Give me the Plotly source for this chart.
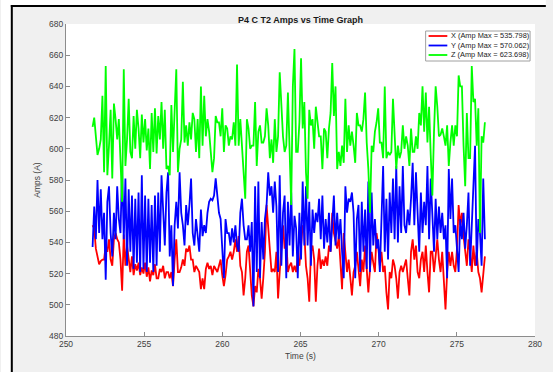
import numpy as np
import plotly.graph_objects as go

# ---- data ----
T0 = 251.70          # first sample time (s)
DT = 0.105           # sample spacing (s)

amps_x = [
    551, 549, 536, 530, 526, 528, 529, 529, 538, 534, 542, 529, 525, 542, 546, 542, 540, 529, 509, 545,
    525, 538, 529, 521, 531, 519, 526, 522, 527, 519, 524, 520, 527, 518, 524, 515, 522, 519, 526, 517,
    517, 523, 521, 525, 517, 521, 521, 517, 521, 512, 529, 542, 521, 521, 524, 529, 525, 536, 534, 538,
    529, 529, 521, 525, 523, 521, 510, 517, 510, 523, 527, 523, 525, 519, 525, 523, 521, 525, 529, 519,
    512, 519, 529, 531, 534, 529, 534, 542, 534, 544, 525, 521, 506, 517, 534, 538, 521, 506, 499, 512,
    508, 523, 517, 504, 517, 534, 564, 551, 538, 521, 523, 521, 534, 504, 521, 534, 551, 536, 542, 521,
    525, 527, 521, 525, 521, 531, 525, 538, 551, 546, 525, 517, 502, 534, 538, 529, 502, 525, 536, 523,
    529, 525, 531, 525, 538, 534, 559, 546, 540, 536, 544, 529, 510, 546, 534, 521, 529, 517, 506, 521,
    525, 534, 525, 512, 529, 521, 538, 521, 508, 523, 534, 527, 521, 546, 538, 525, 534, 521, 525, 508,
    497, 521, 517, 529, 525, 517, 504, 521, 525, 521, 525, 529, 517, 506, 534, 542, 529, 538, 521, 517,
    529, 534, 521, 538, 521, 508, 534, 534, 521, 534, 542, 529, 521, 534, 517, 497, 521, 534, 525, 534,
    525, 521, 536, 564, 551, 559, 544, 534, 525, 542, 534, 521, 538, 525, 534, 521, 517, 508, 519, 531,
]

amps_y = [
    537, 563, 542, 580, 546, 574, 542, 559, 516, 566, 576, 546, 531, 559, 542, 576, 555, 546, 588, 542,
    581, 525, 574, 534, 570, 523, 568, 527, 572, 521, 583, 523, 570, 521, 568, 527, 564, 521, 570, 525,
    572, 534, 583, 555, 538, 572, 585, 531, 551, 512, 551, 566, 549, 585, 559, 551, 538, 564, 551, 564,
    581, 546, 538, 555, 546, 534, 561, 544, 551, 546, 559, 566, 568, 567, 570, 581, 570, 559, 555, 534,
    517, 555, 546, 546, 538, 549, 540, 551, 538, 534, 559, 568, 551, 542, 542, 551, 534, 553, 499, 576,
    521, 579, 517, 553, 529, 555, 564, 585, 570, 576, 559, 579, 563, 521, 583, 525, 559, 570, 517, 566,
    538, 572, 531, 557, 549, 517, 559, 529, 579, 538, 576, 538, 566, 525, 561, 546, 559, 553, 568, 542,
    570, 536, 555, 540, 559, 534, 551, 570, 538, 559, 542, 555, 534, 517, 576, 559, 568, 566, 572, 559,
    517, 555, 564, 521, 566, 534, 561, 523, 579, 521, 572, 538, 555, 536, 542, 521, 555, 589, 534, 568,
    529, 572, 546, 581, 542, 589, 540, 576, 546, 589, 551, 546, 561, 551, 568, 591, 551, 585, 559, 534,
    572, 546, 566, 551, 589, 542, 581, 555, 534, 568, 542, 563, 546, 559, 542, 551, 517, 587, 555, 581,
    546, 551, 534, 521, 555, 542, 559, 536, 551, 572, 525, 551, 581, 602, 525, 555, 546, 525, 581, 542,
]

amps_z = [
    614, 620, 608, 596, 600, 606, 634, 585, 653, 583, 602, 625, 581, 629, 619, 606, 619, 594, 566, 651,
    589, 606, 632, 598, 594, 621, 600, 625, 613, 594, 622, 604, 619, 599, 613, 587, 623, 598, 626, 597,
    621, 606, 630, 600, 625, 587, 589, 583, 628, 598, 621, 651, 585, 600, 606, 643, 604, 615, 602, 617,
    606, 623, 619, 598, 619, 594, 640, 602, 634, 608, 619, 611, 598, 585, 594, 621, 617, 617, 608, 626,
    598, 615, 613, 602, 608, 606, 617, 602, 654, 602, 619, 602, 585, 568, 619, 613, 600, 602, 602, 630,
    589, 611, 615, 604, 604, 608, 626, 615, 594, 606, 591, 619, 598, 608, 649, 623, 608, 598, 602, 636,
    594, 564, 640, 664, 598, 598, 617, 658, 613, 630, 585, 568, 625, 615, 619, 600, 627, 617, 608, 608,
    587, 613, 611, 594, 613, 623, 655, 621, 640, 587, 598, 589, 602, 591, 632, 598, 615, 602, 611, 602,
    591, 623, 615, 615, 611, 619, 636, 604, 587, 559, 602, 598, 611, 617, 626, 604, 604, 594, 640, 594,
    598, 596, 598, 632, 613, 587, 602, 594, 598, 615, 600, 608, 602, 589, 613, 598, 598, 608, 600, 623,
    615, 640, 611, 636, 604, 627, 596, 570, 611, 640, 627, 608, 609, 613, 608, 602, 615, 589, 604, 615,
    602, 615, 608, 647, 640, 640, 602, 576, 623, 594, 594, 653, 630, 632, 602, 626, 546, 608, 604, 617,
]

series_names = ["X (Amp Max = 535.798)", "Y (Amp Max = 570.062)", "Z (Amp Max = 623.698)"]
series_colors = ["#ff0000", "#0000ff", "#00ff00"]
x_ticks = [250, 255, 260, 265, 270, 275, 280]
y_ticks = [480, 500, 520, 540, 560, 580, 600, 620, 640, 660, 680]

# ---- geometry ----
W, H = 553, 372
L, R, T, B = 66, 11, 24, 36
PW, PH = W - L - R, H - T - B


def px(x):
    return (x - L) / PW


def py(y):
    return (H - B - y) / PH


FONT = "Liberation Sans, Arial, Helvetica, sans-serif"
AXC = "#8c8c8c"
TXC = "#404040"

fig = go.Figure()
for name, vals, col in zip(series_names, [amps_x, amps_y, amps_z], series_colors):
    t = T0 + DT * np.arange(len(vals))
    fig.add_trace(go.Scatter(x=t, y=vals, mode="lines", name=name,
                             line=dict(color=col, width=1.8), showlegend=False,
                             hoverinfo="skip"))

shapes = [
    # white strips outside the window frame
    dict(type="rect", xref="paper", yref="paper", x0=px(0), x1=px(W), y0=py(0), y1=py(5),
         fillcolor="white", line=dict(width=0), layer="below"),
    dict(type="rect", xref="paper", yref="paper", x0=px(0), x1=px(10), y0=py(0), y1=py(H),
         fillcolor="white", line=dict(width=0), layer="below"),
    # black window frame lines
    dict(type="line", xref="paper", yref="paper", x0=px(10), x1=px(W), y0=py(6), y1=py(6),
         line=dict(color="black", width=2)),
    dict(type="line", xref="paper", yref="paper", x0=px(11), x1=px(11), y0=py(5), y1=py(H),
         line=dict(color="black", width=2)),
    # legend box
    dict(type="rect", xref="paper", yref="paper", x0=px(431), x1=px(537), y0=py(31), y1=py(61),
         fillcolor="white", line=dict(color="#a0a0a0", width=1)),
]
annotations = []
leg_y = [36, 45.5, 55]
for name, col, yy in zip(series_names, series_colors, leg_y):
    shapes.append(dict(type="line", xref="paper", yref="paper", x0=px(434), x1=px(453),
                       y0=py(yy), y1=py(yy), line=dict(color=col, width=1.8)))
    annotations.append(dict(xref="paper", yref="paper", x=px(455), y=py(yy), text=name,
                            showarrow=False, xanchor="left", yanchor="middle",
                            font=dict(family=FONT, size=7.4, color="#1a1a1a")))

fig.update_layout(
    width=W, height=H,
    margin=dict(l=L, r=R, t=T, b=B, pad=0),
    paper_bgcolor="#f0f0f0", plot_bgcolor="white",
    font=dict(family=FONT, size=8.5, color=TXC),
    title=dict(text="<b>P4 C T2 Amps vs Time Graph</b>", x=0.5, xref="paper", xanchor="center",
               y=1 - 19.5 / H, yref="container", yanchor="middle",
               font=dict(family=FONT, size=9, color="#1a1a1a")),
    shapes=shapes, annotations=annotations,
    showlegend=False,
)
fig.update_xaxes(range=[250, 280], tickvals=x_ticks, ticks="inside", ticklen=4, tickcolor=AXC,
                 showline=True, linecolor=AXC, linewidth=1, showgrid=False, zeroline=False,
                 tickfont=dict(size=8.5, color=TXC),
                 title=dict(text="Time (s)", font=dict(size=8.5, color=TXC), standoff=4))
fig.update_yaxes(range=[480, 680], tickvals=y_ticks, ticks="inside", ticklen=4, tickcolor=AXC,
                 showline=True, linecolor=AXC, linewidth=1, showgrid=False, zeroline=False,
                 tickfont=dict(size=8.5, color=TXC),
                 title=dict(text="Amps (A)", font=dict(size=8.5, color=TXC), standoff=7))

fig.write_html("out.html")
